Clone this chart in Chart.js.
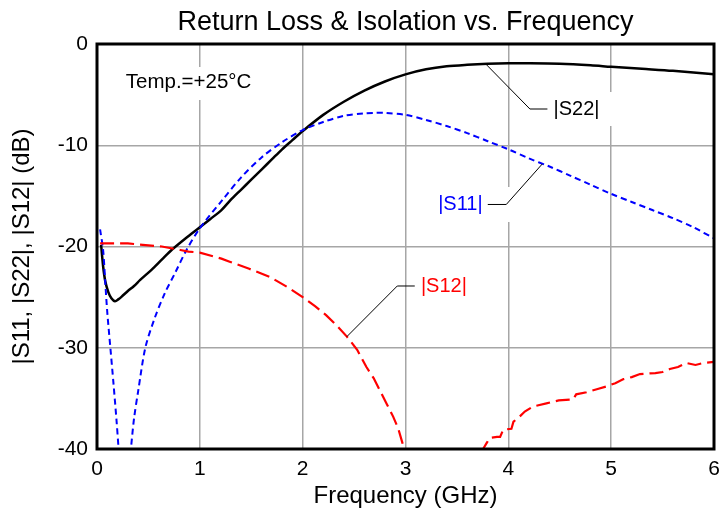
<!DOCTYPE html>
<html>
<head>
<meta charset="utf-8">
<script src="https://cdn.jsdelivr.net/npm/chart.js@4/dist/chart.umd.min.js"></script>
<style>
  html, body { margin: 0; padding: 0; background: #fff; }
</style>
</head>
<body>
<canvas id="chart" width="723" height="514"></canvas>
<script>
// |S22| (black solid)
var s22Freq = [0.04, 0.06, 0.08, 0.11, 0.14, 0.175, 0.21, 0.24, 0.3, 0.36, 0.42, 0.53, 0.63, 0.73, 0.86, 1.0,
  1.1, 1.21, 1.3, 1.4, 1.5, 1.6, 1.7, 1.8, 1.9, 2.0, 2.2, 2.4, 2.6, 2.8, 3.0, 3.2, 3.4, 3.6, 3.8,
  4.0, 4.2, 4.5, 4.8, 5.0, 5.3, 5.6, 6.0];
var s22Vals = [-19.85, -22.0, -23.4, -24.5, -25.1, -25.4, -25.2, -24.95, -24.4, -23.9, -23.3, -22.3, -21.3, -20.3, -19.2, -18.1,
  -17.3, -16.4, -15.4, -14.4, -13.4, -12.4, -11.4, -10.4, -9.5, -8.6, -7.0, -5.7, -4.6, -3.7, -3.0, -2.5, -2.2, -2.05, -1.95,
  -1.9, -1.9, -1.95, -2.1, -2.25, -2.45, -2.65, -3.0];

// |S11| (blue dashed)
var s11Freq = [0.03, 0.06, 0.08, 0.1, 0.13, 0.16, 0.19, 0.21, 0.22, 0.31, 0.33, 0.36, 0.4, 0.47, 0.56, 0.66, 0.76, 0.87, 1.0,
  1.22, 1.4, 1.6, 1.8, 2.0, 2.2, 2.4, 2.6, 2.7, 2.8, 3.0, 3.2, 3.4, 3.6, 3.8, 4.0, 4.2, 4.4, 4.6, 4.8,
  5.0, 5.2, 5.4, 5.6, 5.8, 6.0];
var s11Vals = [-18.3, -20.4, -23.5, -26.5, -30.0, -33.5, -37.2, -40.0, -41.5, -42.5, -40.0, -37.0, -34.3, -30.0, -27.1, -24.6, -22.6, -20.35, -18.2,
  -15.4, -13.2, -11.2, -9.7, -8.5, -7.7, -7.1, -6.85, -6.8, -6.8, -7.0, -7.5, -8.1, -8.8, -9.6, -10.4, -11.3, -12.1, -13.0, -13.9,
  -14.8, -15.6, -16.4, -17.2, -18.1, -19.2];

// |S12| (red long dash), gap where it drops below -40 dB
var s12Freq = [0.03, 0.3, 0.63, 0.81, 0.89, 1.0, 1.21, 1.29, 1.48, 1.68, 1.85, 2.0, 2.12, 2.23, 2.33, 2.43, 2.53, 2.62, 2.69, 2.75, 2.82, 2.88, 2.93, 2.97, 3.0,
  3.4,
  3.755, 3.76, 3.79, 3.82, 3.89, 3.92, 3.95, 4.03, 4.05, 4.1, 4.16, 4.24, 4.37, 4.49, 4.63, 4.66, 4.76, 4.86, 4.96,
  5.04, 5.12, 5.2, 5.28, 5.43, 5.5, 5.57, 5.65, 5.73, 5.82, 5.9, 6.0];
var s12Vals = [-19.7, -19.7, -20.0, -20.35, -20.5, -20.6, -21.2, -21.5, -22.2, -23.0, -24.0, -25.0, -25.9, -26.8, -27.8, -28.9, -30.2, -31.9, -33.0, -34.2, -35.6, -36.8, -38.0, -39.4, -40.5,
  null,
  -40.5, -39.9, -39.4, -38.9, -38.8, -38.8, -38.1, -38.0, -37.3, -36.9, -36.3, -35.8, -35.5, -35.2, -35.1, -34.6, -34.4, -34.1, -33.8,
  -33.5, -33.1, -32.9, -32.6, -32.5, -32.4, -32.1, -31.9, -31.5, -31.7, -31.5, -31.4];

var xTicks = [0, 1, 2, 3, 4, 5, 6];
var yTicks = [0, -10, -20, -30, -40];

function pts(xs, ys) {
  var out = [];
  for (var i = 0; i < xs.length; i++) out.push({x: xs[i], y: ys[i]});
  return out;
}

var FONT = '"Liberation Sans", Arial, sans-serif';

// curve labels with leader lines (points in data units), white boxes hide the grid behind the text
var callouts = [
  {text: '|S22|', color: '#000', line: [[3.78, -1.97], [4.21, -6.42], [4.38, -6.42]], at: [4.44, -6.42], box: [550, 92, 70, 34]},
  {text: '|S11|', color: '#0000ff', line: [[4.33, -11.85], [3.98, -15.85], [3.80, -15.85]], at: [3.75, -15.85], align: 'right', box: [430, 187, 82, 35]},
  {text: '|S12|', color: '#ff0000', line: [[2.43, -28.9], [2.92, -23.9], [3.09, -23.9]], at: [3.15, -23.9]}
];

var annotate = {
  id: 'annotate',
  beforeDatasetsDraw: function(chart) {
    var ctx = chart.ctx;
    ctx.save();
    ctx.fillStyle = '#fff';
    ctx.fillRect(115, 67, 148, 33);
    callouts.forEach(function(c) {
      if (c.box) ctx.fillRect(c.box[0], c.box[1], c.box[2], c.box[3]);
    });
    ctx.restore();
  },
  afterDatasetsDraw: function(chart) {
    var ctx = chart.ctx, xs = chart.scales.x, ys = chart.scales.y, a = chart.chartArea;
    ctx.save();
    ctx.font = '20.5px ' + FONT;
    ctx.textBaseline = 'middle';
    ctx.fillStyle = '#000';
    ctx.textAlign = 'left';
    ctx.fillText('Temp.=+25°C', xs.getPixelForValue(0.28), ys.getPixelForValue(-3.75));
    ctx.font = '20px ' + FONT;
    callouts.forEach(function(c) {
      ctx.beginPath();
      ctx.strokeStyle = '#000';
      ctx.lineWidth = 1;
      c.line.forEach(function(p, i) {
        var px = xs.getPixelForValue(p[0]), py = ys.getPixelForValue(p[1]);
        if (i == 0) ctx.moveTo(px, py); else ctx.lineTo(px, py);
      });
      ctx.stroke();
      ctx.fillStyle = c.color;
      ctx.textAlign = c.align || 'left';
      ctx.fillText(c.text, xs.getPixelForValue(c.at[0]), ys.getPixelForValue(c.at[1]));
    });
    // plot frame
    ctx.strokeStyle = '#000';
    ctx.lineWidth = 3;
    ctx.strokeRect(a.left, a.top, a.right - a.left, a.bottom - a.top);
    ctx.restore();
  }
};

new Chart(document.getElementById('chart'), {
  type: 'scatter',
  data: {
    datasets: [{
      label: '|S12|',
      data: pts(s12Freq, s12Vals),
      showLine: true,
      borderColor: '#ff0000',
      borderWidth: 2.2,
      borderDash: [14, 6],
      pointRadius: 0,
      spanGaps: false,
      tension: 0
    }, {
      label: '|S11|',
      data: pts(s11Freq, s11Vals),
      showLine: true,
      borderColor: '#0000ff',
      borderWidth: 2,
      borderDash: [6, 4],
      pointRadius: 0,
      tension: 0.3
    }, {
      label: '|S22|',
      data: pts(s22Freq, s22Vals),
      showLine: true,
      borderColor: '#000000',
      borderWidth: 2.5,
      pointRadius: 0,
      tension: 0.3
    }]
  },
  options: {
    responsive: false,
    devicePixelRatio: 1,
    animation: false,
    layout: { padding: { left: 0, right: 9, top: 0, bottom: 0 } },
    plugins: {
      legend: { display: false },
      tooltip: { enabled: false },
      title: {
        display: true,
        fullSize: false,
        text: 'Return Loss & Isolation vs. Frequency',
        color: '#000',
        font: { family: FONT, size: 27, weight: 'normal' },
        padding: { top: 6, bottom: 5.6 }
      }
    },
    scales: {
      x: {
        type: 'linear',
        min: 0, max: 6,
        afterBuildTicks: function(s) { s.ticks = xTicks.map(function(v) { return {value: v}; }); },
        afterFit: function(s) { s.height = 65; s.paddingLeft = 0; s.paddingRight = 0; },
        grid: { color: '#a6a6a6', lineWidth: 1.5, drawTicks: false },
        border: { display: false },
        ticks: { color: '#000', padding: 8, font: { family: FONT, size: 21 } },
        title: { display: true, text: 'Frequency (GHz)', color: '#000',
          font: { family: FONT, size: 24 }, padding: { top: 0, bottom: 3 } }
      },
      y: {
        type: 'linear',
        min: -40, max: 0,
        afterBuildTicks: function(s) { s.ticks = yTicks.map(function(v) { return {value: v}; }); },
        afterFit: function(s) { s.width = 97; },
        grid: { color: '#a6a6a6', lineWidth: 1.5, drawTicks: false },
        border: { display: false },
        ticks: { color: '#000', padding: 9, font: { family: FONT, size: 21 } },
        title: { display: true, text: '|S11, |S22|, |S12| (dB)', color: '#000',
          font: { family: FONT, size: 24 }, padding: { top: 8, bottom: 0 } }
      }
    }
  },
  plugins: [annotate]
});
</script>
</body>
</html>
